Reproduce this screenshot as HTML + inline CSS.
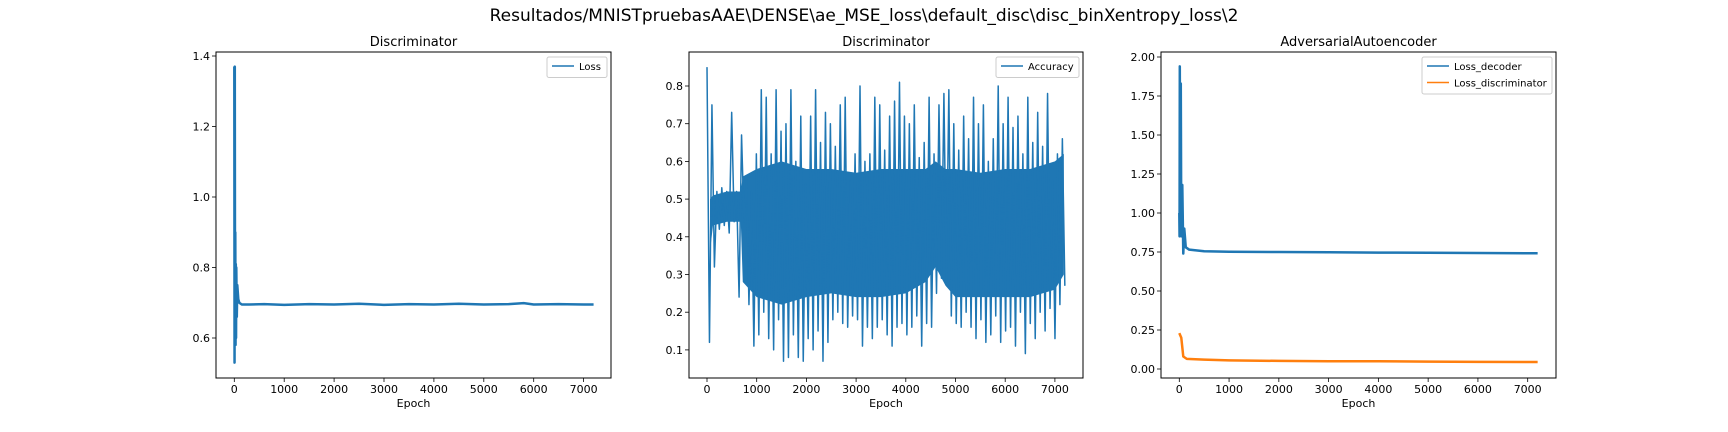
<!DOCTYPE html>
<html><head><meta charset="utf-8"><style>
html,body{margin:0;padding:0;background:#fff;}
svg{display:block;font-family:"DejaVu Sans","Liberation Sans",sans-serif;}
</style></head><body>
<svg id="fig" width="1728" height="432" viewBox="0 0 1728 432">
<rect width="1728" height="432" fill="#fff"/>
<text x="864" y="21" text-anchor="middle" font-size="17" fill="#000">Resultados/MNISTpruebasAAE\DENSE\ae_MSE_loss\default_disc\disc_binXentropy_loss\2</text>
</svg>
<script>
// ---- data ----
const xTicks = [0,1000,2000,3000,4000,5000,6000,7000];
const lossEpochs = [0,5,10,15,20,25,30,35,40,50,60,80,100,150,300,600,1000,1500,2000,2500,3000,3500,4000,4500,5000,5500,5800,6000,6500,7000,7200];
const lossValues = [1.37,0.53,1.37,0.60,0.90,0.58,0.81,0.60,0.80,0.66,0.75,0.71,0.70,0.695,0.695,0.696,0.694,0.696,0.695,0.697,0.694,0.696,0.695,0.697,0.695,0.696,0.699,0.695,0.696,0.695,0.695];
const lossYTicks = [0.6,0.8,1.0,1.2,1.4];
const accValues = [0.85,0.12,0.75,0.32,
0.52,0.42,0.53,0.43,0.52,0.41,0.73,0.44,0.52,0.24,0.67,0.44,
0.56,0.22,0.52,0.11,0.62,0.14,
0.79,0.20,0.77,0.13,0.62,0.10,0.79,0.18,0.68,0.07,0.70,0.08,0.79,0.14,0.60,0.08,0.72,0.07,0.54,0.13,
0.72,0.10,0.79,0.15,0.65,0.07,0.73,0.12,0.70,0.18,0.64,0.20,0.75,0.17,0.77,0.16,0.55,0.19,0.62,0.18,
0.80,0.11,0.60,0.16,0.62,0.13,0.77,0.16,0.75,0.18,0.63,0.14,0.72,0.11,0.76,0.16,0.81,0.17,0.72,0.14,
0.70,0.16,0.75,0.19,0.61,0.11,0.65,0.17,0.77,0.16,0.62,0.25,0.75,0.29,0.78,0.28,0.79,0.19,0.70,0.17,
0.63,0.16,0.72,0.20,0.66,0.16,0.77,0.13,0.70,0.18,0.75,0.12,0.60,0.14,0.66,0.19,0.80,0.12,0.70,0.15,
0.77,0.16,0.69,0.11,0.72,0.20,0.62,0.09,0.77,0.17,0.65,0.13,0.73,0.20,0.64,0.15,0.78,0.21,0.55,0.13,0.62,0.22,0.66,0.27];
// dense core band of the accuracy trace (min/max envelope of the bulk)
const accCoreEpochs = [60,120,400,680,720,1000,1500,2000,2500,3000,3500,4000,4400,4600,4800,5000,5500,6000,6500,7000,7180];
const accCoreHi = [0.50,0.51,0.52,0.52,0.56,0.58,0.60,0.58,0.58,0.57,0.58,0.58,0.58,0.60,0.58,0.58,0.57,0.58,0.58,0.60,0.62];
const accCoreLo = [0.36,0.43,0.44,0.44,0.28,0.24,0.22,0.24,0.25,0.24,0.24,0.25,0.28,0.32,0.27,0.24,0.24,0.24,0.24,0.26,0.30];
const accYTicks = [0.1,0.2,0.3,0.4,0.5,0.6,0.7,0.8];
const decEpochs = [0,5,10,20,30,40,60,80,100,130,200,500,1000,2000,3000,4000,5000,6000,7000,7200];
const decValues = [1.00,0.85,1.94,0.90,1.83,0.85,1.18,0.74,0.90,0.78,0.765,0.755,0.752,0.75,0.748,0.746,0.745,0.744,0.742,0.742];
const discEpochs = [0,40,80,150,500,1000,2000,3000,4000,5000,6000,7000,7200];
const discValues = [0.23,0.20,0.08,0.065,0.06,0.055,0.052,0.05,0.05,0.047,0.046,0.045,0.045];
const aaeYTicks = [0.00,0.25,0.50,0.75,1.00,1.25,1.50,1.75,2.00];

const NS="http://www.w3.org/2000/svg";
const fig=document.getElementById('fig');
function mk(tag,attrs,parent){const e=document.createElementNS(NS,tag);for(const k in attrs)e.setAttribute(k,attrs[k]);(parent||fig).appendChild(e);return e;}
function txt(s,attrs,parent){const e=mk('text',attrs,parent);e.textContent=s;return e;}

function panel(cfg){
  const g=mk('g',{});
  
  
  const L=cfg.left,R=cfg.right,T=52,B=378;
  const xs=e=>cfg.x0+e*cfg.xk;
  const ys=v=>cfg.y0+(cfg.v0-v)*cfg.yk;
  const t=txt(cfg.title,{x:(L+R)/2,y:46,'text-anchor':'middle','font-size':13,fill:'#000'},g);
  
  
  const clip=mk('clipPath',{id:'c'+cfg.id},g);
  mk('rect',{x:L,y:T,width:R-L,height:B-T},clip);
  const lg=mk('g',{'clip-path':'url(#c'+cfg.id+')'},g);
  if(cfg.band){
    const b=cfg.band;
    const top=b.xs.map((e,i)=>xs(e).toFixed(2)+','+ys(b.hi[i]).toFixed(2));
    const bot=b.xs.map((e,i)=>xs(e).toFixed(2)+','+ys(b.lo[i]).toFixed(2)).reverse();
    const pg=mk('polygon',{points:top.concat(bot).join(' '),fill:b.color},lg);
    
    
  }
  cfg.series.forEach(s=>{
    const pts=s.ys.map((v,i)=>xs(s.xs(i)).toFixed(2)+','+ys(v).toFixed(2)).join(' ');
    const pl=mk('polyline',{points:pts,fill:'none',stroke:s.color,'stroke-width':s.w,'stroke-linejoin':'round'},lg);
    
    
  });
  const fr=mk('rect',{x:L,y:T,width:R-L,height:B-T,fill:'none',stroke:'#000','stroke-width':1},g);
  
  
  xTicks.forEach(v=>{
    const x=xs(v);
    mk('line',{x1:x,x2:x,y1:B,y2:B+4,stroke:'#000','stroke-width':0.8},g);
    const tl=txt(String(v),{x:x,y:393,'text-anchor':'middle','font-size':11,fill:'#000'},g);
    
    
  });
  cfg.yTicks.forEach(v=>{
    const y=ys(v);
    mk('line',{x1:L-4,x2:L,y1:y,y2:y,stroke:'#000','stroke-width':0.8},g);
    const tl=txt(v.toFixed(cfg.dec),{x:L-6,y:y+4,'text-anchor':'end','font-size':11,fill:'#000'},g);
    
    
  });
  const xl=txt('Epoch',{x:(L+R)/2,y:407,'text-anchor':'middle','font-size':11,fill:'#000'},g);
  
  
  const lgd=mk('g',{},g);
  
  
  mk('rect',{x:cfg.lg[0],y:57,width:R-4-cfg.lg[0],height:4+cfg.series.length*16.5,rx:2,fill:'#fff','fill-opacity':0.8,stroke:'#ccc'},lgd);
  cfg.series.forEach((s,i)=>{
    const yy=66+i*16.5;
    mk('line',{x1:cfg.lg[0]+5,x2:cfg.lg[0]+27,y1:yy,y2:yy,stroke:s.color,'stroke-width':1.5},lgd);
    const le=txt(s.label,{x:cfg.lg[0]+32,y:yy+4,'font-size':10,fill:'#000'},lgd);
    
    
  });
}
const blue='#1f77b4',orange='#ff7f0e';
panel({id:1,name:'discriminator-loss-panel',title:'Discriminator',left:216,right:611,x0:234.3,xk:0.0499,y0:56,v0:1.4,yk:352.5,yTicks:lossYTicks,dec:1,lg:[547],
  series:[{name:'loss-line',label:'Loss',color:blue,w:2.5,ys:lossValues,xs:i=>lossEpochs[i]}]});
panel({id:2,name:'discriminator-accuracy-panel',title:'Discriminator',left:689,right:1083,x0:707,xk:0.0497,y0:86,v0:0.8,yk:377,yTicks:accYTicks,dec:1,lg:[996],
  band:{xs:accCoreEpochs,hi:accCoreHi,lo:accCoreLo,color:blue},
  series:[{name:'accuracy-line',label:'Accuracy',color:blue,w:1.5,ys:accValues,xs:i=>i*7200/(accValues.length-1)}]});
panel({id:3,name:'adversarial-autoencoder-panel',title:'AdversarialAutoencoder',left:1161,right:1556,x0:1179.3,xk:0.04977,y0:57,v0:2.0,yk:156,yTicks:aaeYTicks,dec:2,lg:[1422],
  series:[{name:'loss-decoder-line',label:'Loss_decoder',color:blue,w:2.5,ys:decValues,xs:i=>decEpochs[i]},
          {name:'loss-discriminator-line',label:'Loss_discriminator',color:orange,w:2.5,ys:discValues,xs:i=>discEpochs[i]}]});
</script>
</body></html>
